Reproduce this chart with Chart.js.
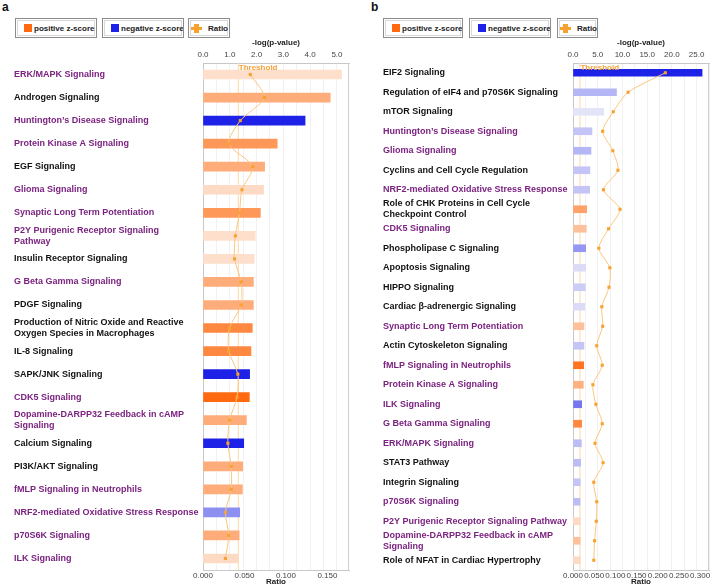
<!DOCTYPE html>
<html>
<head>
<meta charset="utf-8">
<script src="https://cdn.jsdelivr.net/npm/chart.js@4.4.1/dist/chart.umd.min.js"></script>
<style>
body{margin:0;width:713px;height:586px;position:relative;background:#fff;font-family:"Liberation Sans",Arial,sans-serif;overflow:hidden}
.cv{position:absolute;top:0;height:586px}
.letter{position:absolute;top:0;font-weight:bold;font-size:12px;color:#111}
.lg{position:absolute;top:18px;height:20px;box-sizing:border-box;border:1px solid #8c8c8c;box-shadow:inset 0 0 0 1px #fff,inset 0 0 0 2px #d8d8d8;font-size:8px;font-weight:bold;color:#222;display:flex;align-items:center;padding-left:8px;white-space:nowrap;overflow:hidden}
.sw{flex:0 0 8px;width:8px;height:8px;margin-right:2px}
.ratio-ic{flex:0 0 11px;position:relative;width:11px;height:9px;margin-right:6px}
.ratio-ic:before{content:"";position:absolute;left:0;top:3px;width:11px;height:3px;background:#f7a12e}
.ratio-ic:after{content:"";position:absolute;left:3px;top:0;width:5px;height:9px;background:#f7a12e}
</style>
</head>
<body>
<div class="letter" style="left:2px">a</div>
<div class="letter" style="left:371px">b</div>

<div class="lg" style="left:15px;width:82px"><span class="sw" style="background:#ff6a10"></span>positive z-score</div>
<div class="lg" style="left:102px;width:82px"><span class="sw" style="background:#1e22e6"></span>negative z-score</div>
<div class="lg" style="left:188px;width:42px;padding-left:2px"><span class="ratio-ic"></span>Ratio</div>

<div class="lg" style="left:383px;width:80px"><span class="sw" style="background:#ff6a10"></span>positive z-score</div>
<div class="lg" style="left:469px;width:82px"><span class="sw" style="background:#1e22e6"></span>negative z-score</div>
<div class="lg" style="left:557px;width:41px;padding-left:2px"><span class="ratio-ic"></span>Ratio</div>

<div class="cv" style="left:0;width:360px"><canvas id="chartA" width="360" height="586"></canvas></div>
<div class="cv" style="left:362px;width:351px"><canvas id="chartB" width="351" height="586"></canvas></div>

<script>
// ---- panel a data ----
const aPathways = [
    'ERK/MAPK Signaling', 'Androgen Signaling', 'Huntington\u2019s Disease Signaling',
    'Protein Kinase A Signaling', 'EGF Signaling', 'Glioma Signaling',
    'Synaptic Long Term Potentiation', ['P2Y Purigenic Receptor Signaling', 'Pathway'],
    'Insulin Receptor Signaling', 'G Beta Gamma Signaling', 'PDGF Signaling',
    ['Production of Nitric Oxide and Reactive', 'Oxygen Species in Macrophages'],
    'IL-8 Signaling', 'SAPK/JNK Signaling', 'CDK5 Signaling',
    ['Dopamine-DARPP32 Feedback in cAMP', 'Signaling'], 'Calcium Signaling',
    'PI3K/AKT Signaling', 'fMLP Signaling in Neutrophils',
    'NRF2-mediated Oxidative Stress Response', 'p70S6K Signaling', 'ILK Signaling'
];
const aLogP = [5.17, 4.75, 3.81, 2.77, 2.30, 2.26, 2.14, 1.95, 1.91, 1.88, 1.88,
               1.84, 1.79, 1.74, 1.73, 1.62, 1.52, 1.48, 1.47, 1.37, 1.35, 1.33];
const aRatio = [0.057, 0.074, 0.045, 0.031, 0.060, 0.047, 0.044, 0.039, 0.038, 0.046, 0.046,
                0.032, 0.031, 0.042, 0.041, 0.032, 0.030, 0.034, 0.034, 0.027, 0.031, 0.027];
const aZScore = [0.3, 1.3, -2.6, 1.7, 1.3, 0.4, 1.7, 0.3, 0.3, 1.3, 1.3,
                 2.0, 2.0, -2.6, 2.6, 1.3, -2.6, 1.3, 1.3, -1.2, 1.3, 0.4];
const aShared = [1, 0, 1, 1, 0, 1, 1, 1, 0, 1, 0, 0, 0, 0, 1, 1, 0, 0, 1, 1, 1, 1];
const aLogPTicks = [0, 1, 2, 3, 4, 5];
const aRatioTicks = [0, 0.05, 0.10, 0.15];

// ---- panel b data ----
const bPathways = [
    'EIF2 Signaling', 'Regulation of eIF4 and p70S6K Signaling', 'mTOR Signaling',
    'Huntington\u2019s Disease Signaling', 'Glioma Signaling', 'Cyclins and Cell Cycle Regulation',
    'NRF2-mediated Oxidative Stress Response',
    ['Role of CHK Proteins in Cell Cycle', 'Checkpoint Control'], 'CDK5 Signaling',
    'Phospholipase C Signaling', 'Apoptosis Signaling', 'HIPPO Signaling',
    'Cardiac \u03b2-adrenergic Signaling', 'Synaptic Long Term Potentiation',
    'Actin Cytoskeleton Signaling', 'fMLP Signaling in Neutrophils', 'Protein Kinase A Signaling',
    'ILK Signaling', 'G Beta Gamma Signaling', 'ERK/MAPK Signaling', 'STAT3 Pathway',
    'Integrin Signaling', 'p70S6K Signaling', 'P2Y Purigenic Receptor Signaling Pathway',
    ['Dopamine-DARPP32 Feedback in cAMP', 'Signaling'], 'Role of NFAT in Cardiac Hypertrophy'
];
const bLogP = [26.1, 8.8, 6.2, 3.84, 3.64, 3.43, 3.37, 2.76, 2.69, 2.56, 2.56, 2.49, 2.36,
               2.22, 2.22, 2.16, 2.09, 1.75, 1.75, 1.69, 1.55, 1.48, 1.41, 1.48, 1.45, 1.48];
const bRatio = [0.218, 0.130, 0.095, 0.070, 0.094, 0.106, 0.072, 0.111, 0.084, 0.061, 0.087,
                0.085, 0.068, 0.070, 0.056, 0.069, 0.047, 0.054, 0.069, 0.052, 0.071, 0.049,
                0.056, 0.055, 0.051, 0.049];
const bZScore = [-2.6, -0.7, -0.1, -0.5, -0.7, -0.5, -0.5, 1.5, 0.9, -1.1, -0.2, -0.4, -0.2,
                 0.9, -0.5, 2.4, 1.2, -1.5, 2.0, -0.6, -0.6, -0.5, -0.6, 0.4, 0.9, 0.4];
const bShared = [0, 0, 0, 1, 1, 0, 1, 0, 1, 0, 0, 0, 0, 1, 0, 1, 1, 1, 1, 1, 0, 0, 1, 1, 1, 0];
const bLogPTicks = [0, 5, 10, 15, 20, 25];
const bRatioTicks = [0, 0.05, 0.10, 0.15, 0.20, 0.25, 0.30];

const THRESHOLD = 1.3; // -log(0.05)
const FONT = '"Liberation Sans", Arial, sans-serif';

// z-score -> bar colour (pale to full orange / blue)
function zColor(z) {
    const t = Math.min(Math.abs(z) / 2.6, 1);
    const pale = z >= 0 ? [253, 238, 228] : [236, 236, 250];
    const full = z >= 0 ? [255, 106, 16] : [30, 34, 230];
    const c = pale.map((p, i) => Math.round(p + (full[i] - p) * t));
    return `rgb(${c[0]},${c[1]},${c[2]})`;
}

// threshold line, right frame and the "Ratio" title
const thresholdPlugin = {
    id: 'threshold',
    beforeDatasetsDraw(chart) {
        const { ctx, chartArea } = chart;
        const x = chart.scales.x.getPixelForValue(THRESHOLD);
        ctx.save();
        ctx.strokeStyle = '#fcd7a8';
        ctx.lineWidth = 1;
        ctx.beginPath();
        ctx.moveTo(x + 0.5, chartArea.top);
        ctx.lineTo(x + 0.5, chartArea.bottom);
        ctx.stroke();
        ctx.strokeStyle = '#cfcfcf';
        ctx.beginPath();
        ctx.moveTo(chartArea.right - 0.5, chartArea.top);
        ctx.lineTo(chartArea.right - 0.5, chartArea.bottom);
        ctx.stroke();
        ctx.restore();
    },
    afterDatasetsDraw(chart) {
        const { ctx, chartArea } = chart;
        const x = chart.scales.x.getPixelForValue(THRESHOLD);
        ctx.save();
        ctx.fillStyle = '#f5a33b';
        ctx.font = 'bold 8px ' + FONT;
        ctx.textBaseline = 'top';
        ctx.fillText('Threshold', x + 1, chartArea.top + 1);
        ctx.fillStyle = '#222';
        ctx.textAlign = 'center';
        ctx.textBaseline = 'middle';
        ctx.fillText('Ratio', (chartArea.left + chartArea.right) / 2, chartArea.bottom + 11.5);
        ctx.restore();
    }
};

function keepTicks(list) {
    return scale => {
        scale.ticks = list.map(v => ({ value: v }));
    };
}

function makeChart(id, p) {
    const ctx = document.getElementById(id).getContext('2d');
    return new Chart(ctx, {
        data: {
            labels: p.labels,
            datasets: [{
                type: 'line',
                indexAxis: 'y',
                data: p.ratio,
                xAxisID: 'x2',
                borderColor: '#fbc57c',
                borderWidth: 1,
                tension: 0.25,
                pointStyle: 'rect',
                pointRadius: 2.2,
                pointBackgroundColor: '#f7a12e',
                pointBorderWidth: 0,
                order: 0
            }, {
                type: 'bar',
                indexAxis: 'y',
                data: p.logP,
                xAxisID: 'x',
                backgroundColor: p.z.map(zColor),
                barThickness: p.barThickness,
                order: 1
            }]
        },
        options: {
            indexAxis: 'y',
            responsive: false,
            animation: false,
            layout: { padding: { left: p.padLeft, right: p.padRight, top: 38, bottom: 0 } },
            plugins: { legend: { display: false }, tooltip: { enabled: false } },
            scales: {
                y: {
                    afterFit: s => { s.width = p.yWidth; },
                    grid: { display: false },
                    border: { color: '#c8c8c8' },
                    ticks: {
                        autoSkip: false,
                        crossAlign: 'far',
                        font: { family: FONT, size: 9, weight: 'bold', lineHeight: 1.22 },
                        color: c => p.shared[c.index] ? '#7b2280' : '#111'
                    }
                },
                x: {
                    position: 'top',
                    min: 0,
                    max: p.logPMax,
                    afterFit: s => { s.height = 25; },
                    afterBuildTicks: keepTicks(p.gridSteps),
                    grid: { color: '#f1f1f1', drawTicks: false },
                    border: { color: '#c8c8c8' },
                    title: { display: true, text: '-log(p-value)', padding: 0,
                             font: { family: FONT, size: 8, weight: 'bold' }, color: '#222' },
                    ticks: {
                        padding: 3,
                        maxRotation: 0,
                        autoSkip: false,
                        font: { family: FONT, size: 8 },
                        color: '#444',
                        callback: v => p.logPTicks.includes(v) ? v.toFixed(1) : ''
                    }
                },
                x2: {
                    position: 'bottom',
                    min: 0,
                    max: p.ratioMax,
                    afterFit: s => { s.height = 16; },
                    afterBuildTicks: keepTicks(p.ratioTicks),
                    grid: { drawOnChartArea: false, tickLength: 1, color: '#c8c8c8' },
                    border: { color: '#c8c8c8' },
                    title: { display: false },
                    ticks: {
                        padding: 0,
                        maxRotation: 0,
                        autoSkip: false,
                        font: { family: FONT, size: 8 },
                        color: '#444',
                        callback: v => v.toFixed(3)
                    }
                }
            }
        },
        plugins: [thresholdPlugin]
    });
}

function gridSteps(max, step) {
    const out = [];
    for (let v = 0; v <= max + 1e-9; v += step) out.push(Math.round(v * 1000) / 1000);
    return out;
}

makeChart('chartA', {
    labels: aPathways, logP: aLogP, ratio: aRatio, z: aZScore, shared: aShared,
    logPTicks: aLogPTicks, ratioTicks: aRatioTicks, gridSteps: gridSteps(5.45, 0.5),
    logPMax: 5.45, ratioMax: 0.176, barThickness: 9,
    padLeft: 14, padRight: 11, yWidth: 189
});

makeChart('chartB', {
    labels: bPathways, logP: bLogP, ratio: bRatio, z: bZScore, shared: bShared,
    logPTicks: bLogPTicks, ratioTicks: bRatioTicks, gridSteps: gridSteps(27.5, 2.5),
    logPMax: 27.5, ratioMax: 0.321, barThickness: 7,
    padLeft: 21, padRight: 4, yWidth: 190
});
</script>
</body>
</html>
